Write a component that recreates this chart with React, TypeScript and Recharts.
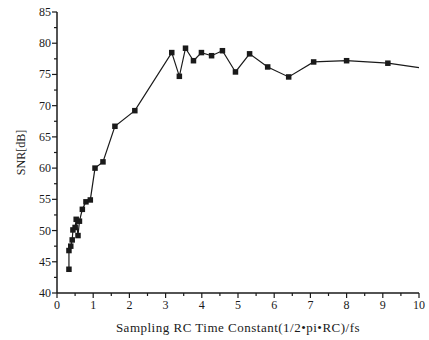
import React from 'react';
import { LineChart, Line, XAxis, YAxis, Label } from 'recharts';

const timeConstant = [0.33, 0.33, 0.38, 0.42, 0.44, 0.5, 0.53, 0.58, 0.62, 0.7, 0.8, 0.92, 1.05, 1.27, 1.6, 2.15, 3.17, 3.38, 3.55, 3.77, 3.99, 4.27, 4.57, 4.93, 5.32, 5.82, 6.4, 7.09, 8.0, 9.14, 10.0];
const snr = [43.8, 46.8, 47.5, 48.5, 50.1, 50.5, 51.8, 49.2, 51.5, 53.4, 54.6, 54.9, 60.0, 61.0, 66.7, 69.2, 78.5, 74.7, 79.2, 77.2, 78.5, 78.0, 78.8, 75.4, 78.3, 76.2, 74.6, 77.0, 77.2, 76.8, 76.1];
const markerShown = [1, 1, 1, 1, 1, 1, 1, 1, 1, 1, 1, 1, 1, 1, 1, 1, 1, 1, 1, 1, 1, 1, 1, 1, 1, 1, 1, 1, 1, 1, 0];

const xTicks = [0, 0.5, 1, 1.5, 2, 2.5, 3, 3.5, 4, 4.5, 5, 5.5, 6, 6.5, 7, 7.5, 8, 8.5, 9, 9.5, 10];
const yTicks = [40, 42.5, 45, 47.5, 50, 52.5, 55, 57.5, 60, 62.5, 65, 67.5, 70, 72.5, 75, 77.5, 80, 82.5, 85];

const data = timeConstant.map((t, i) => ({ t, snr: snr[i], m: markerShown[i] }));

const FONT = '"Liberation Serif", "DejaVu Serif", serif';
const INK = '#1a1a1a';

const XTick = (props: any) => {
  const { x, y, payload } = props;
  const v = payload.value;
  const major = Number.isInteger(v);
  return (
    <g>
      <line x1={x} y1={y} x2={x} y2={y + (major ? 5 : 3)} stroke={INK} strokeWidth={1.2} />
      {major && (
        <text x={x} y={y + 16} textAnchor="middle" fontSize={12} fontFamily={FONT} fill={INK}>
          {v}
        </text>
      )}
    </g>
  );
};

const YTick = (props: any) => {
  const { x, y, payload } = props;
  const v = payload.value;
  const major = Number.isInteger(v) && v % 5 === 0;
  return (
    <g>
      <line x1={x} y1={y} x2={x - (major ? 5 : 3)} y2={y} stroke={INK} strokeWidth={1.2} />
      {major && (
        <text x={x - 6} y={y + 4} textAnchor="end" fontSize={12} fontFamily={FONT} fill={INK}>
          {v}
        </text>
      )}
    </g>
  );
};

const SquareDot = (props: any) => {
  const { cx, cy, payload, index } = props;
  if (!payload || !payload.m || cx == null || cy == null) return <g key={index} />;
  return <rect key={index} x={cx - 2.75} y={cy - 2.75} width={5.5} height={5.5} fill={INK} />;
};

export default function App() {
  return (
    <div style={{ position: 'absolute', left: 0, top: 0, width: 429, height: 340, background: '#fff' }}>
      <LineChart width={429} height={340} data={data} margin={{ top: 12, right: 10, bottom: 17, left: 17 }}>
        <XAxis
          dataKey="t"
          type="number"
          domain={[0, 10]}
          ticks={xTicks}
          interval={0}
          tickSize={0}
          tickMargin={0}
          tickLine={false}
          tick={<XTick />}
          height={30}
          axisLine={{ stroke: INK, strokeWidth: 1.5 }}
        >
          <Label
            value="Sampling RC Time Constant(1/2•pi•RC)/fs"
            position="insideBottom"
            offset={-9}
            style={{ fontFamily: FONT, fontSize: 13, letterSpacing: 0.5, fill: INK }}
          />
        </XAxis>
        <YAxis
          type="number"
          domain={[40, 85]}
          ticks={yTicks}
          interval={0}
          tickSize={0}
          tickMargin={0}
          tickLine={false}
          tick={<YTick />}
          width={40}
          axisLine={{ stroke: INK, strokeWidth: 1.5 }}
        >
          <Label
            value="SNR[dB]"
            angle={-90}
            position="insideLeft"
            offset={0}
            dx={4}
            style={{ fontFamily: FONT, fontSize: 12, fill: INK, textAnchor: 'middle' }}
          />
        </YAxis>
        <Line
          dataKey="snr"
          stroke={INK}
          strokeWidth={1.2}
          dot={<SquareDot />}
          activeDot={false}
          isAnimationActive={false}
        />
      </LineChart>
    </div>
  );
}
